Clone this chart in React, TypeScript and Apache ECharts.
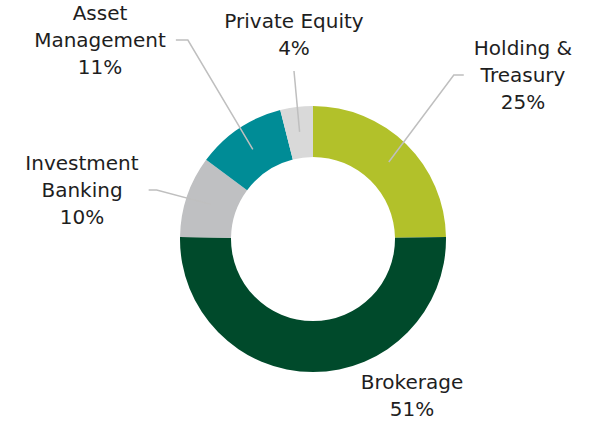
import React, { useEffect, useRef } from "react";
import * as echarts from "echarts";

const categories = ["Holding &\nTreasury", "Brokerage", "Investment\nBanking", "Asset\nManagement", "Private Equity"];
const shares = [25, 51, 10, 11, 4];
const sliceColors = ["#B2C12A", "#004A2B", "#BFC0C2", "#008C96", "#D9D9D9"];

// label anchor (block centre) and connector second-segment length, per slice
const labelCentres: [number, number][] = [
  [523, 75],
  [412, 395],
  [82, 190],
  [100, 40],
  [294, 34],
];
const connectorLen2 = [10, 0, 8, 12, 0];
const showConnector = [true, false, true, true, true];

export default function App() {
  const ref = useRef<HTMLDivElement>(null);
  useEffect(() => {
    if (!ref.current) return;
    const chart = echarts.init(ref.current, undefined, { renderer: "svg" });
    const center = [313, 239];
    chart.setOption({
      animation: false,
      backgroundColor: "#ffffff",
      series: [
        {
          type: "pie",
          z: 2,
          center,
          radius: [82, 133],
          startAngle: 90,
          clockwise: true,
          silent: true,
          label: { show: false },
          labelLine: { show: false },
          emphasis: { disabled: true },
          data: categories.map((name, i) => ({
            name,
            value: shares[i],
            itemStyle: { color: sliceColors[i] },
          })),
        },
        {
          type: "pie",
          z: 3,
          center,
          radius: [0, 108],
          startAngle: 90,
          clockwise: true,
          silent: true,
          avoidLabelOverlap: false,
          emphasis: { disabled: true },
          itemStyle: { color: "rgba(0,0,0,0)" },
          label: {
            show: true,
            position: "outside",
            fontFamily: "DejaVu Sans",
            fontSize: 20,
            lineHeight: 27,
            color: "#1E1E1E",
            padding: 10,
            formatter: (p: any) => `${p.name}\n${p.value}%`,
          },
          labelLayout: (p: any) => {
            const c = labelCentres[p.dataIndex];
            return { x: c[0], y: c[1], align: "center", verticalAlign: "middle" };
          },
          data: categories.map((name, i) => ({
            name,
            value: shares[i],
            labelLine: {
              show: showConnector[i],
              length: 10,
              length2: connectorLen2[i],
              lineStyle: { color: "#BFBFBF", width: 1.5 },
            },
          })),
        },
      ],
    });
    return () => chart.dispose();
  }, []);
  return (
    <div
      ref={ref}
      style={{ position: "fixed", left: 0, top: 0, width: 592, height: 421 }}
    />
  );
}
